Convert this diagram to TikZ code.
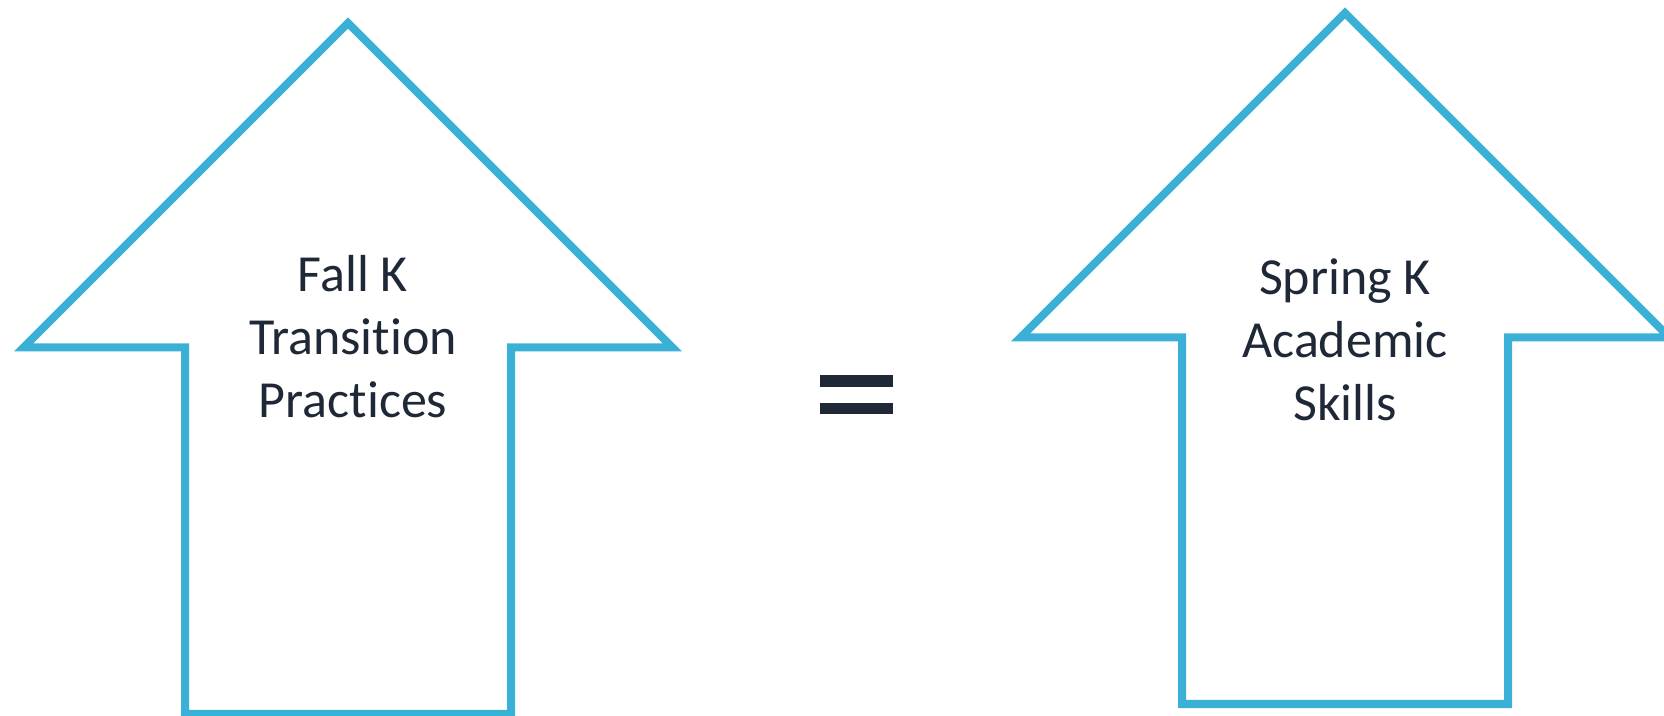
\documentclass[tikz,border=0pt]{standalone}
\usepackage{fontspec}
\setmainfont[Ligatures={NoCommon}]{Carlito}
\definecolor{arrowblue}{RGB}{58,176,214}
\definecolor{textnavy}{RGB}{30,40,54}

\begin{document}
\begin{tikzpicture}[
  x=0.01cm,
  y=-0.01cm,
  line/.style={draw=arrowblue,line width=0.08cm,line join=miter},
  label/.style={align=center,text=textnavy,font=\fontsize{14.8pt}{18pt}\selectfont,inner sep=0pt},
  bar/.style={fill=textnavy}
]
\useasboundingbox (0,0) rectangle (1664,716);

% Left arrow
\draw[line] (348,23) -- (23.5,347.5) -- (185,347.5) -- (185,714)
  -- (511,714) -- (511,347.5) -- (672.5,347.5) -- cycle;
\node[label,anchor=base] (fall) at (353,418)
  {Fall K\\Transition\\Practices};

% Equals sign
\fill[bar] (820,375) rectangle (893,387);
\fill[bar] (820,403) rectangle (893,414);

% Right arrow
\draw[line] (1345,13) -- (1020.5,337.5) -- (1182,337.5) -- (1182,704)
  -- (1508,704) -- (1508,337.5) -- (1669.5,337.5) -- cycle;
\node[label,anchor=base] (spring) at (1345,421)
  {Spring K\\Academic\\Skills};

\end{tikzpicture}
\end{document}
